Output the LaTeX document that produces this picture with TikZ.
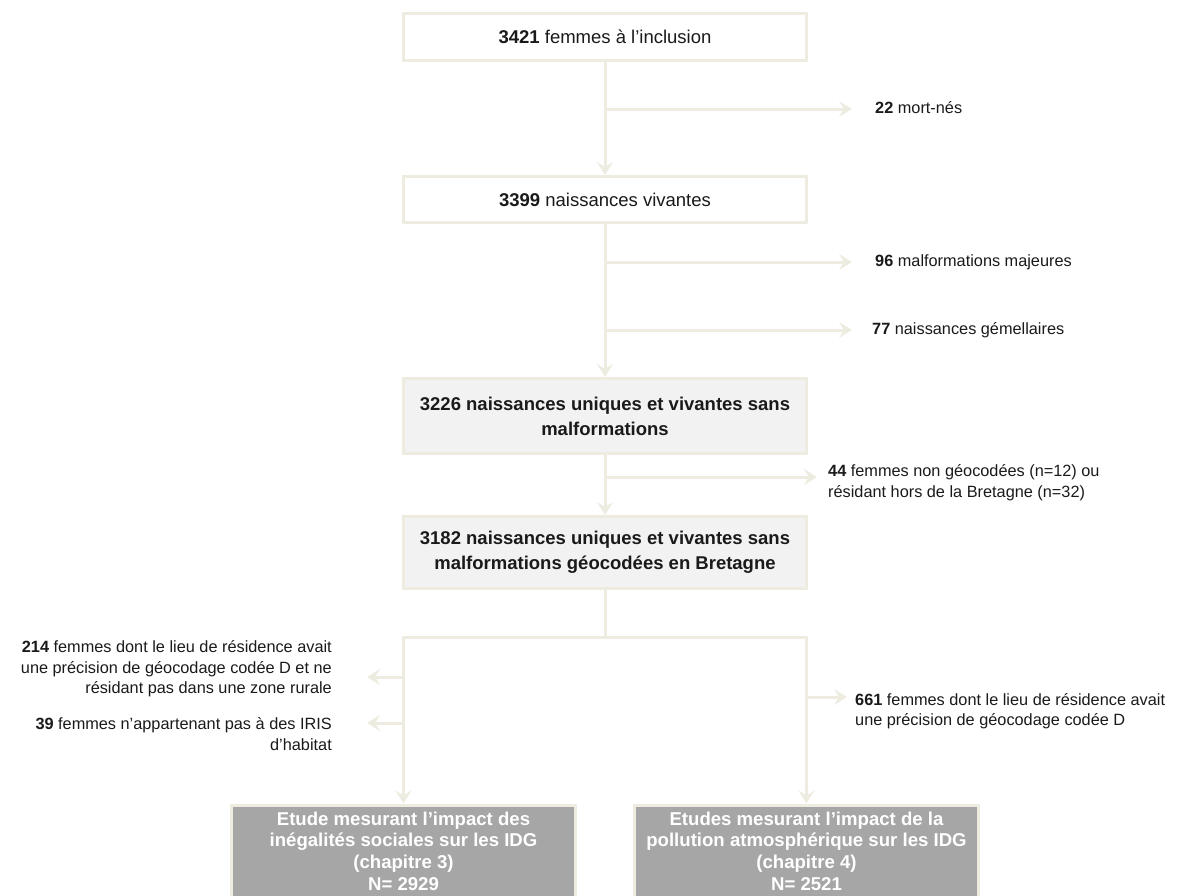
\documentclass[tikz,border=0pt]{standalone}
\usepackage{fontspec}
\setmainfont{Liberation Sans}
\usetikzlibrary{arrows.meta}
\definecolor{beige}{HTML}{EEECE1}
\definecolor{lightbox}{HTML}{F2F2F2}
\definecolor{darkbox}{HTML}{A6A6A6}
\definecolor{ink}{HTML}{1A1A1A}

\begin{document}
\begin{tikzpicture}[x=1pt, y=-1pt,
  box/.style={draw=beige, line width=3pt, fill=white, minimum width=403pt,
    align=center, inner sep=2pt, text=ink, font=\fontsize{18.5}{25}\selectfont},
  grey/.style={box, fill=lightbox, font=\fontsize{18.5}{25}\selectfont\bfseries},
  study/.style={draw=beige, line width=3pt, fill=darkbox, align=center, text=white,
    inner sep=0pt, minimum width=344pt, minimum height=92pt,
    font=\fontsize{18.6}{21.7}\selectfont\bfseries},
  link/.style={draw=beige, line width=3pt},
  arr/.style={link, -{Stealth[length=13pt, width=16pt, inset=5pt]}},
  side/.style={inner sep=0pt, text=ink, font=\fontsize{16.3}{20.5}\selectfont},
]

  \useasboundingbox (0,0) rectangle (1192,895);

  %% main boxes
  \node[box, minimum height=47pt] (incl) at (605,37) {\textbf{3421} femmes à l’inclusion};
  \node[box, minimum height=46pt] (vivant) at (605,199.5) {\textbf{3399} naissances vivantes};
  \node[grey, minimum height=75pt] (unique) at (605,416)
    {3226 naissances uniques et vivantes sans\\malformations};
  \node[grey, minimum height=72pt] (geo) at (605,552.5)
    {3182 naissances uniques et vivantes sans\\malformations géocodées en Bretagne};

  \node[study] (social) at (403.5,851)
    {Etude mesurant l’impact des\\inégalités sociales sur les IDG\\(chapitre 3)\\N= 2929};
  \node[study] (pollu) at (806.5,851)
    {Etudes mesurant l’impact de la\\pollution atmosphérique sur les IDG\\(chapitre 4)\\N= 2521};

  %% branch points
  \coordinate (c1) at (605,109); \coordinate (e1) at (852,109);
  \coordinate (c2) at (605,262); \coordinate (e2) at (852,262);
  \coordinate (c3) at (605,330); \coordinate (e3) at (852,330);
  \coordinate (c4) at (605,477); \coordinate (e4) at (817,477);
  \coordinate (split) at (605,637);
  \coordinate (c5) at (403.5,677); \coordinate (e5) at (367,677);
  \coordinate (c6) at (403.5,723); \coordinate (e6) at (367,723);
  \coordinate (c7) at (806.5,697); \coordinate (e7) at (847,697);

  %% trunk
  \draw[arr] (incl) -- (vivant);
  \draw[arr] (vivant) -- (unique);
  \draw[arr] (unique) -- (geo);
  \draw[link] (geo) -- (split);
  \draw[arr] (split) -| (social);
  \draw[arr] (split) -| (pollu);

  %% exclusions
  \draw[arr] (c1) -- (e1);
  \draw[arr] (c2) -- (e2);
  \draw[arr] (c3) -- (e3);
  \draw[arr] (c4) -- (e4);
  \draw[arr] (c5) -- (e5);
  \draw[arr] (c6) -- (e6);
  \draw[arr] (c7) -- (e7);

  \node[side, anchor=west] (mort) at (875,108) {\textbf{22} mort-nés};
  \node[side, anchor=west] (malf) at (875,262) {\textbf{96} malformations majeures};
  \node[side, anchor=west] (jum) at (872,330) {\textbf{77} naissances gémellaires};
  \node[side, anchor=west, align=left] (nongeo) at (828,482.5)
    {\textbf{44} femmes non géocodées (n=12) ou\\résidant hors de la Bretagne (n=32)};
  \node[side, anchor=west, align=left] (coded) at (855,711)
    {\textbf{661} femmes dont le lieu de résidence avait\\une précision de géocodage codée D};
  \node[side, anchor=east, align=right] (rural) at (332,669)
    {\textbf{214} femmes dont le lieu de résidence avait\\une précision de géocodage codée D et ne\\résidant pas dans une zone rurale};
  \node[side, anchor=east, align=right] (iris) at (332,734)
    {\textbf{39} femmes n’appartenant pas à des IRIS\\d’habitat};

\end{tikzpicture}
\end{document}
